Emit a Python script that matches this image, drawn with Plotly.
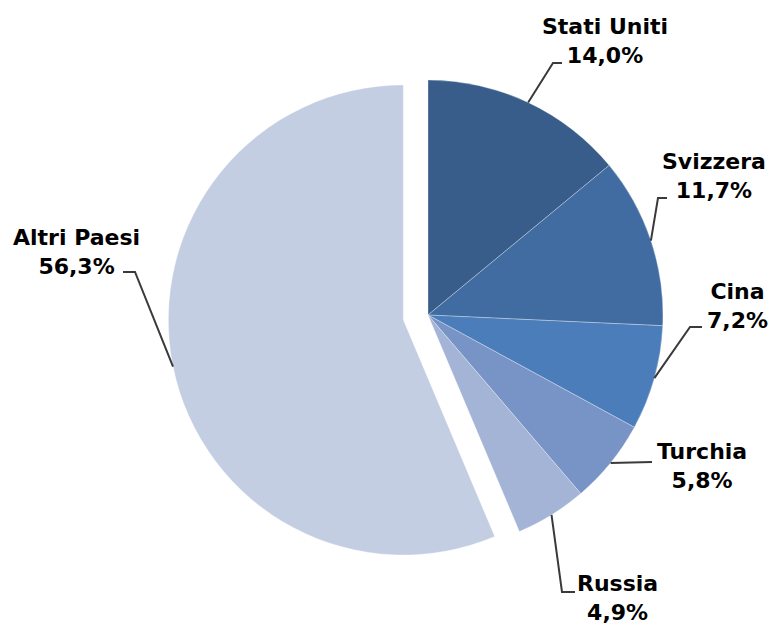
import math
import plotly.graph_objects as go

# ---- data ----
countries = ["Stati Uniti", "Svizzera", "Cina", "Turchia", "Russia", "Altri Paesi"]
shares = [14.0, 11.7, 7.2, 5.8, 4.9, 56.3]
share_labels = ["14,0%", "11,7%", "7,2%", "5,8%", "4,9%", "56,3%"]
pulls = [0, 0, 0, 0, 0, 0.107]

# ---- style / layout ----
W, H = 776, 624
colors = ["#385D8A", "#416CA2", "#4A7DBA", "#7894C6", "#A3B4D6", "#C4CEE3"]
CX, CY, R = 428, 315, 235          # pie centre/radius in px
BOX = 2 * R * (1 + max(pulls))     # plotly shrinks radius by (1+maxPull)

# label placement (px): label centre, elbow point, end of leader line
label_pos = [(605, 41), (714, 176), (737, 306), (702, 466), (617, 598), (76, 252)]
elbows = [(553, 63), (658, 198), (690, 327), (652, 462), (562, 592), (135, 272)]
ends = [(562, 63), (667, 198), (702, 327), (652, 462), (575, 592), (123, 272)]


def px(x):
    return x / W


def py(y):
    return 1 - y / H


fig = go.Figure(go.Pie(
    labels=countries,
    values=shares,
    sort=False,
    direction="clockwise",
    rotation=0,
    pull=pulls,
    marker=dict(colors=colors, line=dict(color="rgba(255,255,255,0.5)", width=0.6)),
    textinfo="none",
    hoverinfo="label+percent",
    showlegend=False,
    domain=dict(x=[px(CX - BOX / 2), px(CX + BOX / 2)],
                y=[py(CY + BOX / 2), py(CY - BOX / 2)]),
))

annotations = []
shapes = []
total = sum(shares)
cum = 0.0
for i, v in enumerate(shares):
    mid = (cum + v / 2) / total * 2 * math.pi
    cum += v
    dx, dy = math.sin(mid), -math.cos(mid)
    off = pulls[i] * R
    ax = CX + dx * (R + off)
    ay = CY + dy * (R + off)
    ex, ey = elbows[i]
    tx, ty = ends[i]
    path = f"M {px(ax)},{py(ay)} L {px(ex)},{py(ey)} L {px(tx)},{py(ty)}"
    shapes.append(dict(type="path", xref="paper", yref="paper", path=path,
                       line=dict(color="#3a3a3a", width=2)))
    lx, ly = label_pos[i]
    annotations.append(dict(
        x=px(lx), y=py(ly), xref="paper", yref="paper",
        text=f"<b>{countries[i]}<br>{share_labels[i]}</b>",
        showarrow=False, align="center", xanchor="center", yanchor="middle",
        font=dict(family="DejaVu Sans", size=22, color="#000000"),
    ))

fig.update_layout(
    width=W, height=H,
    margin=dict(l=0, r=0, t=0, b=0),
    paper_bgcolor="white",
    plot_bgcolor="white",
    annotations=annotations,
    shapes=shapes,
)

fig.write_html(
    "out.html",
    config={"displayModeBar": False},
    post_script="document.body.style.margin='0';document.body.style.overflow='hidden';",
)
